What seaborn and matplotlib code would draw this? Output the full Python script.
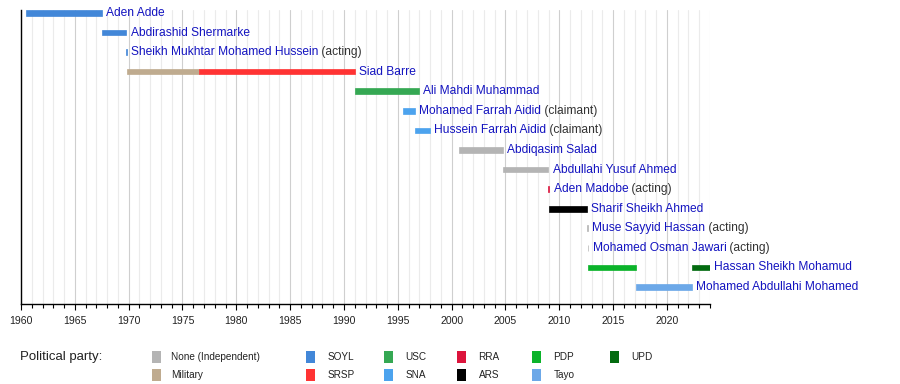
import matplotlib
matplotlib.use("Agg")
import matplotlib.pyplot as plt
from matplotlib.patches import Rectangle
import seaborn as sns

# ---- data ----
names = [
    "Aden Adde", "Abdirashid Shermarke", "Sheikh Mukhtar Mohamed Hussein",
    "Siad Barre", "Ali Mahdi Muhammad", "Mohamed Farrah Aidid",
    "Hussein Farrah Aidid", "Abdiqasim Salad", "Abdullahi Yusuf Ahmed",
    "Aden Madobe", "Sharif Sheikh Ahmed", "Muse Sayyid Hassan",
    "Mohamed Osman Jawari", "Hassan Sheikh Mohamud", "Mohamed Abdullahi Mohamed",
]
suffixes = ["", "", "(acting)", "", "", "(claimant)", "(claimant)", "", "",
            "(acting)", "", "(acting)", "(acting)", "", ""]

seg_row = [0, 1, 2, 3, 3, 4, 5, 6, 7, 8, 9, 10, 11, 12, 13, 13, 14]
seg_start = [1960.5, 1967.5, 1969.79, 1969.8, 1976.5, 1991.07, 1995.45, 1996.6,
             2000.65, 2004.8, 2008.99, 2009.08, 2012.6, 2012.65, 2012.7, 2022.33, 2017.1]
seg_end = [1967.5, 1969.79, 1969.81, 1976.5, 1991.0, 1997.0, 1996.6, 1998.0,
           2004.8, 2008.99, 2009.08, 2012.6, 2012.65, 2012.7, 2017.1, 2024.0, 2022.33]
seg_party = ["SOYL", "SOYL", "SOYL", "Military", "SRSP", "USC", "SNA", "SNA",
             "None (Independent)", "None (Independent)", "RRA", "ARS",
             "None (Independent)", "None (Independent)", "PDP", "UPD", "Tayo"]

parties = ["None (Independent)", "Military", "SOYL", "SRSP", "USC", "SNA",
           "RRA", "ARS", "PDP", "Tayo", "UPD"]
party_colors = ["#b4b4b4", "#bfab8f", "#4287d8", "#ff3333", "#35a853", "#4ca3ee",
                "#dc143c", "#000000", "#0bb32a", "#6ca8e8", "#036b10"]

year_min, year_max = 1960, 2024
year_ticks = list(range(1960, 2021, 5))

# ---- style ----
sns.set_theme(style="white")
plt.rcParams["font.family"] = ["Liberation Sans", "DejaVu Sans"]

W, H = 900, 384
fig = plt.figure(figsize=(W / 100, H / 100), dpi=100)
ax = fig.add_axes([21 / W, 1 - 304 / H, (710 - 21) / W, (304 - 10) / H])

cmap = dict(zip(parties, party_colors))
name_color = "#1414c0"

ax.barh(seg_row, [e - s for s, e in zip(seg_start, seg_end)], left=seg_start,
        height=0.29, color=[cmap[p] for p in seg_party],
        edgecolor=[cmap[p] for p in seg_party], linewidth=0.5, zorder=3)

# label after last segment end of each row
last_end = {}
for r, e in zip(seg_row, seg_end):
    last_end[r] = max(last_end.get(r, -1e9), e)

for i, (nm, sx) in enumerate(zip(names, suffixes)):
    t1 = ax.annotate(nm, xy=(last_end[i], i), xytext=(3, 0), textcoords="offset points",
                     ha="left", va="center", color=name_color, fontsize=8.65, zorder=5,
                     annotation_clip=False)
    if sx:
        ax.annotate(" " + sx, xy=(1, 0.5), xycoords=t1, ha="left", va="center",
                    color="#333333", fontsize=8.65, zorder=5, annotation_clip=False)

ax.set_xlim(year_min, year_max)
ax.set_ylim(14.87, -0.15)
ax.set_xticks(year_ticks)
ax.set_xticks(range(year_min, year_max + 1), minor=True)
ax.set_xticklabels([str(y) for y in year_ticks], fontsize=7.6, color="#222222")
ax.set_yticks([])
ax.grid(which="major", axis="x", color="#cfcfcf", lw=0.8, zorder=0)
ax.grid(which="minor", axis="x", color="#ebebeb", lw=0.8, zorder=0)
ax.set_axisbelow(True)
ax.tick_params(axis="x", which="major", direction="out", length=4, width=0.8,
               color="black", bottom=True, pad=4.5)
ax.tick_params(axis="x", which="minor", direction="out", length=3, width=0.8,
               color="black", bottom=True)
for side in ["top", "right"]:
    ax.spines[side].set_visible(False)
for side in ["left", "bottom"]:
    ax.spines[side].set_color("black")
    ax.spines[side].set_linewidth(1.0)

# ---- legend ----
fig.text(20 / W, 1 - 357 / H, "Political party:", ha="left", va="center",
         fontsize=9.5, color="#222222")
leg_cols = [152, 306, 384, 457, 532, 610]
leg_rows = [357, 375]
for k, (p, c) in enumerate(zip(parties, party_colors)):
    if k < 2:
        col, row = 0, k
    else:
        col, row = 1 + (k - 2) // 2, (k - 2) % 2
    x = leg_cols[col]
    y = leg_rows[row]
    fig.add_artist(Rectangle((x / W, 1 - (y + 6) / H), 8.5 / W, 12 / H,
                             transform=fig.transFigure, color=c, lw=0))
    fig.text((x + (19 if col == 0 else 21.5)) / W, 1 - y / H, p, ha="left",
             va="center", fontsize=7.2, color="#222222")

fig.savefig("out.png", dpi=100)
